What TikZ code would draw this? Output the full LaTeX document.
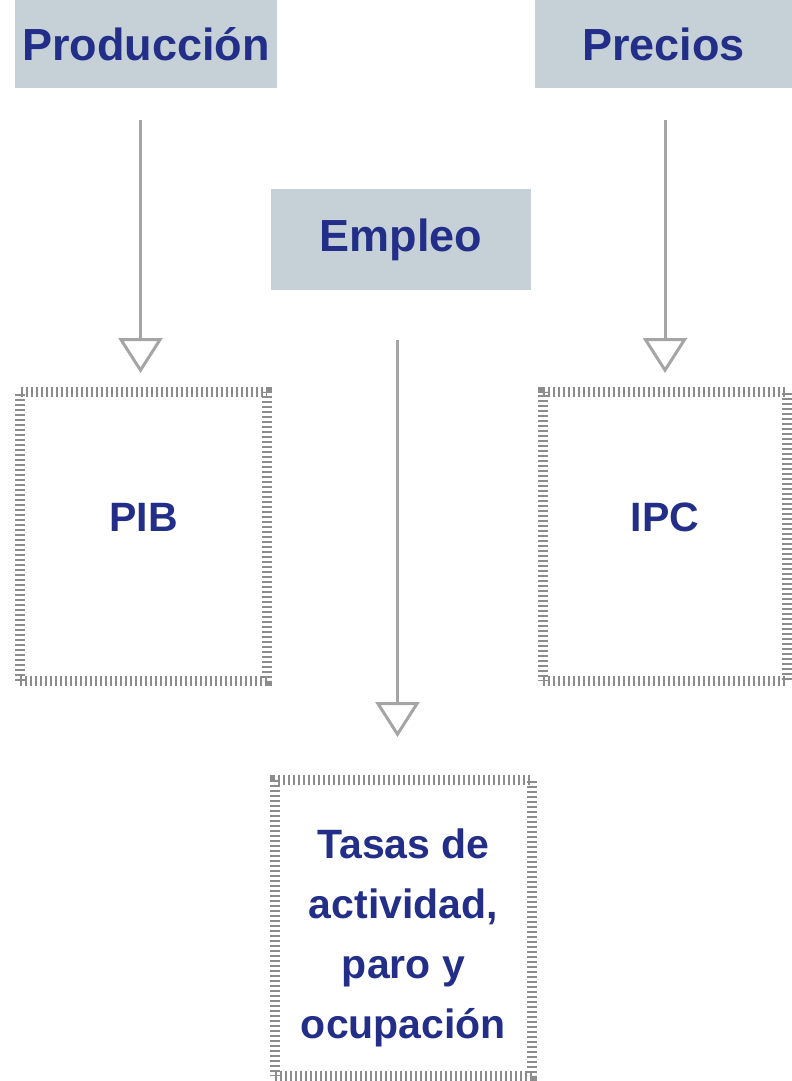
\documentclass[tikz,border=0pt]{standalone}
\usepackage{fontspec}
\setmainfont{Liberation Sans}
\usetikzlibrary{arrows.meta}
\begin{document}
\begin{tikzpicture}[x=1pt,y=-1pt,
    titulo/.style={fill=cajagris, text=azul, inner sep=0pt,
        font=\bfseries\fontsize{45}{54}\selectfont},
    rayado/.style={draw=rayagris, line width=10pt, dash pattern=on 2.4pt off 2.6pt,
        text=azul, inner sep=0pt, align=center,
        font=\bfseries\fontsize{41}{60}\selectfont},
    flecha/.style={draw=flechagris, line width=3pt,
        -{Triangle[open, length=35pt, width=44pt]}}]
    % Define colors
    \definecolor{cajagris}{RGB}{197,208,215} % grey-blue boxes
    \definecolor{azul}{RGB}{34,46,135} % dark blue text
    \definecolor{flechagris}{RGB}{165,165,165}
    \definecolor{rayagris}{RGB}{140,140,140}

    \useasboundingbox (0,0) rectangle (792,1081);

    % Top boxes
    \node[titulo, minimum width=262pt, minimum height=88pt] (prod) at (146,44) {Producción};
    \node[titulo, minimum width=257pt, minimum height=88pt] (prec) at (663.5,44) {Precios};
    \node[titulo, minimum width=260pt, minimum height=101pt] (empl) at (401,239.5) {Empleo};

    % Ruled boxes
    \node[rayado, minimum width=247pt, minimum height=289pt, text depth=38pt] (pib) at (143.5,536.5) {PIB};
    \node[rayado, minimum width=244pt, minimum height=289pt, text depth=38pt] (ipc) at (665,536.5) {IPC};
    \node[rayado, minimum width=257pt, minimum height=296pt] (tasas) at (403.5,928)
        {\rule{0pt}{50pt}Tasas de\\actividad,\\paro y\\ocupación};

    % Arrows
    \draw[flecha, shorten <=32pt, shorten >=14pt] ([xshift=-3pt]pib.north |- prod.south) -- ([xshift=-3pt]pib.north);
    \draw[flecha, shorten <=32pt, shorten >=14pt] (ipc.north |- prec.south) -- (ipc.north);
    \draw[flecha, shorten <=50pt, shorten >=38pt] ([xshift=-6pt]tasas.north |- empl.south) -- ([xshift=-6pt]tasas.north);
\end{tikzpicture}
\end{document}
